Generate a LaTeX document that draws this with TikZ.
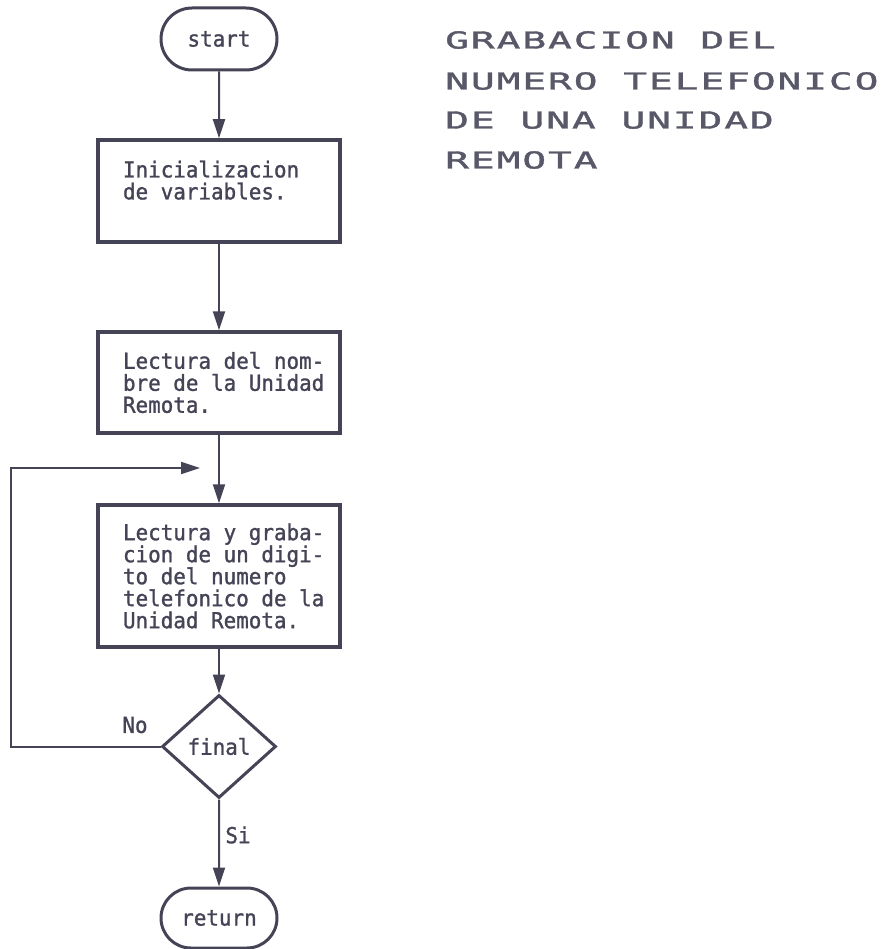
\documentclass[tikz,border=0pt]{standalone}
\usepackage{fontspec}
\usetikzlibrary{shapes.geometric,shapes.misc,arrows.meta,calc}
\newfontfamily\chartfont{DejaVu Sans Mono}[FakeStretch=0.95,FakeBold=1.2]
\newfontfamily\titlefont{DejaVu Sans Mono}[FakeStretch=1.7,LetterSpace=8,FakeBold=1.6]
% one full character cell, used as the word gap in the monospaced box texts
\newcommand\gap{\hspace*{12.58pt}}
\definecolor{ink}{RGB}{68,68,86}
\definecolor{titleink}{RGB}{88,88,104}

\begin{document}
\begin{tikzpicture}[x=1pt,y=-1pt,
  lbl/.style={font=\chartfont\fontsize{22}{22}\selectfont, text=ink, inner sep=0pt},
  term/.style={rounded rectangle, draw=ink, line width=3pt, minimum width=116pt,
    minimum height=62pt, lbl},
  procbox/.style={rectangle, draw=ink, line width=3.5pt, minimum width=242pt,
    text width=192pt, align=left, lbl},
  decision/.style={diamond, draw=ink, line width=3pt, minimum width=114pt,
    minimum height=103pt, aspect=1.1, lbl},
  flow/.style={draw=ink, line width=2pt, -{Triangle[length=19pt,width=12pt]}},
  heading/.style={font=\titlefont\fontsize{23.3}{40}\selectfont, text=titleink,
    anchor=base west, inner sep=0pt}
]
\useasboundingbox (0,0) rectangle (883,949);

% flowchart column
\node[term] (start) at (219,39) {start};
\node[procbox, minimum height=102pt] (init) at (219,191)
  {\mbox{Inicializacion}\\\mbox{de\gap variables.}\\\mbox{}};
\node[procbox, minimum height=101pt] (name) at (219,382.5)
  {\mbox{Lectura\gap del\gap nom-}\\\mbox{bre\gap de\gap la\gap Unidad}\\\mbox{Remota.}};
\node[procbox, minimum height=142pt] (digit) at (219,576)
  {\mbox{Lectura\gap y\gap graba-}\\\mbox{cion\gap de\gap un\gap digi-}\\\mbox{to\gap del\gap numero}\\\mbox{telefonico\gap de\gap la}\\\mbox{Unidad\gap Remota.}};
\node[decision] (final) at (219,746.5) {final};
\node[term, minimum height=60pt] (ret) at (219,918) {return};

% branch labels
\node[lbl] (no) at (135,725) {No};
\node[lbl] (si) at (238,835) {Si};

% connectors
\draw[flow] (start) -- (init);
\draw[flow] (init) -- (name);
\draw[flow] (name) -- (digit);
\draw[flow] (digit) -- (final);
\draw[flow] (final) -- (ret);
\coordinate (loopin) at (200,468);
\draw[flow] (final.west) -- ++(-150,0) |- (loopin);

% heading
\node[heading] (h1) at (445,48.5) {GRABACION DEL};
\node[heading] (h2) at (445,89.5) {NUMERO TELEFONICO};
\node[heading] (h3) at (445,128.5) {DE UNA UNIDAD};
\node[heading] (h4) at (445,168.5) {REMOTA};
\end{tikzpicture}
\end{document}
